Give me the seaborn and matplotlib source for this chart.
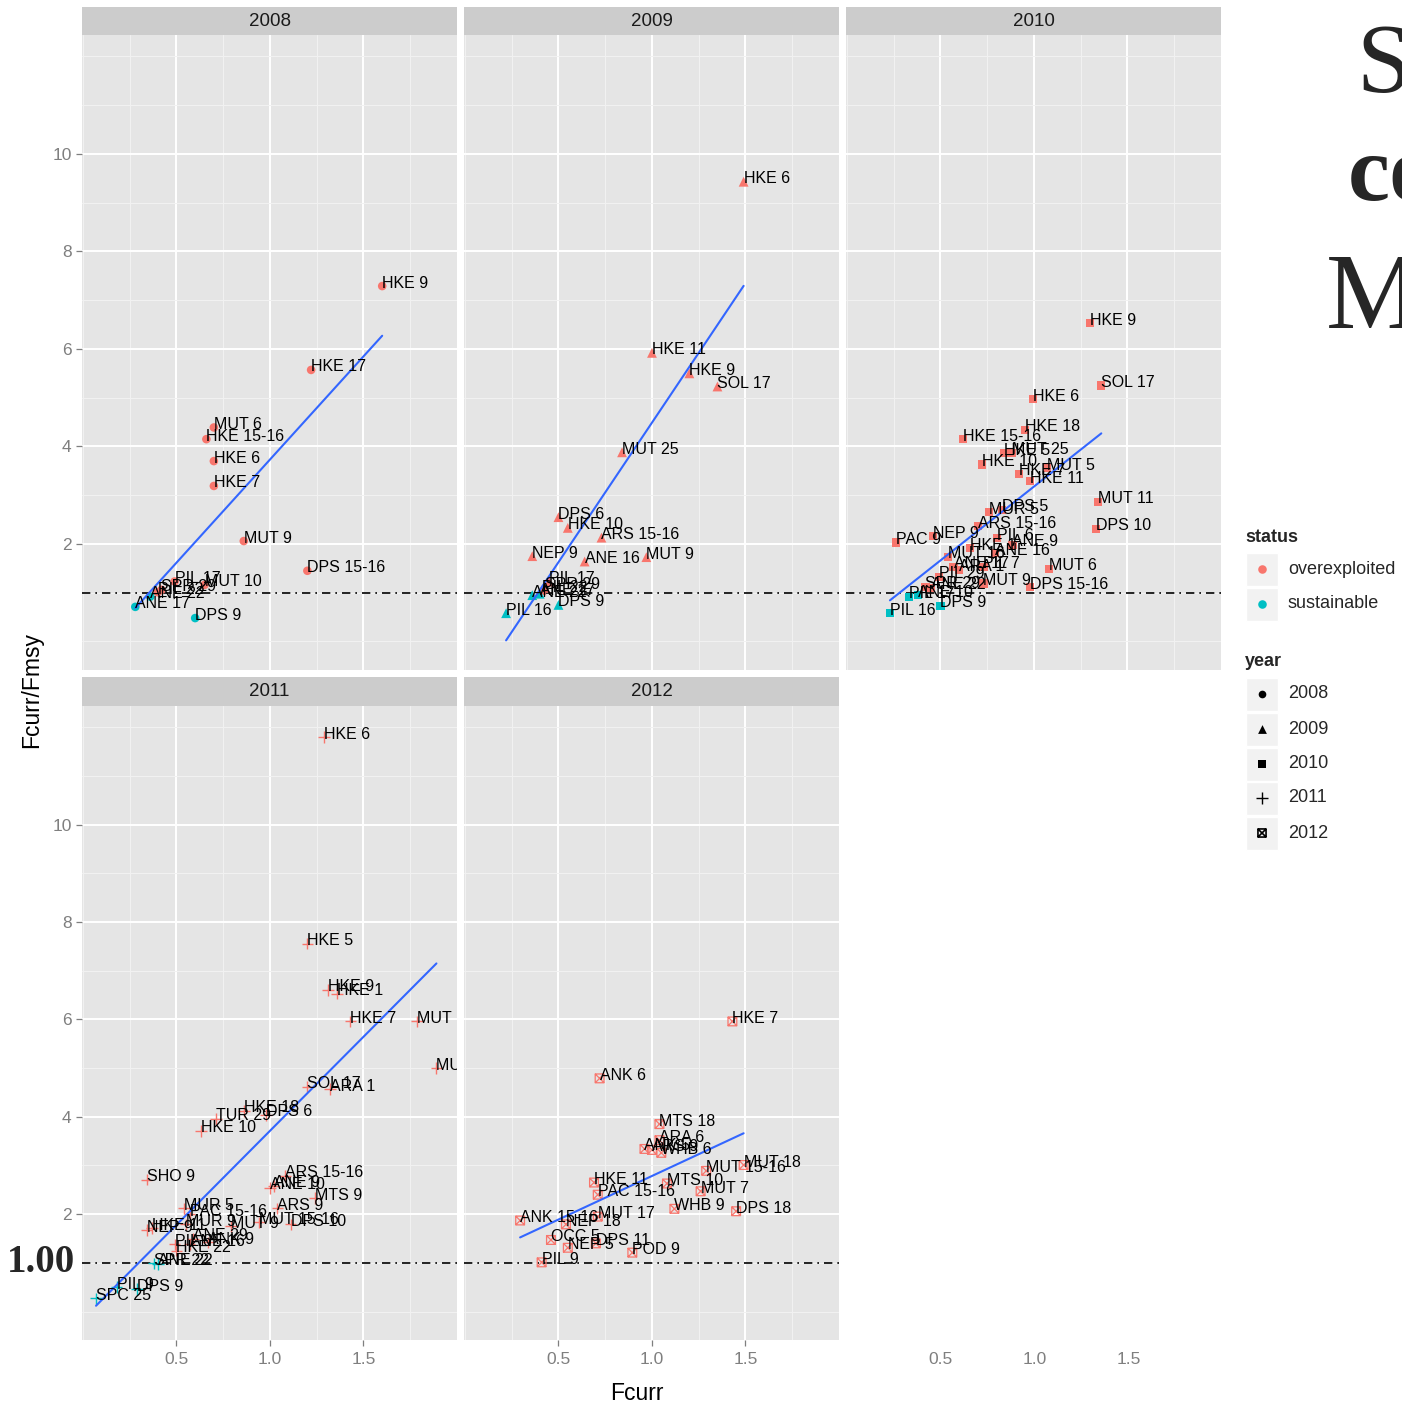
import numpy as np
import pandas as pd
import matplotlib
matplotlib.use("Agg")
import matplotlib.pyplot as plt
import seaborn as sns
from matplotlib.path import Path
from matplotlib.markers import MarkerStyle
from matplotlib.patches import Rectangle

# ---------------- data ----------------
years = [2008, 2009, 2010, 2011, 2012]

labels_2008 = ["HKE 9", "HKE 17", "MUT 6", "HKE 15-16", "HKE 6", "HKE 7", "MUT 9", "DPS 15-16",
               "PIL 17", "MUT 10", "SPR 29", "PIL 22", "ANE 22", "ANE 17", "DPS 9"]
fcurr_2008 = [1.60, 1.22, 0.70, 0.66, 0.70, 0.70, 0.86, 1.20, 0.49, 0.65, 0.42, 0.40, 0.36, 0.28, 0.60]
ratio_2008 = [7.29, 5.57, 4.39, 4.15, 3.70, 3.19, 2.06, 1.45, 1.23, 1.16, 1.06, 1.01, 0.92, 0.71, 0.48]
sustainable_2008 = ["ANE 22", "ANE 17", "DPS 9"]

labels_2009 = ["HKE 6", "HKE 11", "HKE 9", "SOL 17", "MUT 25", "DPS 6", "HKE 10", "ARS 15-16", "NEP 9",
               "ANE 16", "MUT 9", "PIL 17", "SPR 29", "PIL 22", "ANE 17", "ANE 22", "DPS 9", "PIL 16"]
fcurr_2009 = [1.49, 1.00, 1.20, 1.35, 0.84, 0.50, 0.55, 0.73, 0.36, 0.64, 0.97, 0.45, 0.43, 0.41, 0.40,
              0.36, 0.50, 0.22]
ratio_2009 = [9.43, 5.92, 5.50, 5.23, 3.88, 2.55, 2.33, 2.13, 1.75, 1.64, 1.73, 1.23, 1.10, 1.05, 0.98,
              0.95, 0.75, 0.58]
sustainable_2009 = ["ANE 17", "ANE 22", "DPS 9", "PIL 16"]

labels_2010 = ["HKE 9", "SOL 17", "HKE 6", "HKE 18", "HKE 15-16", "HKE 5", "MUT 25", "HKE 10", "HKE 7",
               "MUT 5", "HKE 11", "MUT 11", "DPS 10", "MUT 6", "DPS 15-16", "MUR 5", "DPS 5", "ARS 15-16",
               "NEP 9", "PAC 9", "PIL 6", "ANE 9", "HKE 1", "MUT 16", "ANE 16", "ANE 17", "ARA 1", "PIL 7",
               "MUT 9", "PIL 29", "SPR 29", "ANE 22", "PIL 17", "ANE 10", "DPS 9", "PIL 16"]
fcurr_2010 = [1.30, 1.36, 0.995, 0.95, 0.62, 0.84, 0.88, 0.72, 0.92, 1.07, 0.98, 1.34, 1.33, 1.08, 0.98,
              0.76, 0.83, 0.70, 0.46, 0.26, 0.80, 0.885, 0.66, 0.54, 0.79, 0.57, 0.60, 0.73, 0.73, 0.49,
              0.42, 0.45, 0.33, 0.38, 0.50, 0.23]
ratio_2010 = [6.53, 5.25, 4.97, 4.34, 4.15, 3.86, 3.87, 3.63, 3.44, 3.55, 3.29, 2.87, 2.31, 1.49, 1.11,
              2.65, 2.70, 2.36, 2.16, 2.03, 2.12, 1.98, 1.91, 1.74, 1.81, 1.53, 1.47, 1.53, 1.19, 1.33,
              1.12, 1.10, 0.92, 0.95, 0.73, 0.58]
sustainable_2010 = ["PIL 17", "ANE 10", "DPS 9", "PIL 16"]

labels_2011 = ["HKE 6", "HKE 5", "HKE 9", "HKE 1", "HKE 7", "MUT 10", "MUT 11", "SOL 17", "ARA 1",
               "HKE 18", "DPS 6", "TUR 29", "HKE 10", "SHO 9", "ARS 15-16", "ANE 10", "ANE 9", "MTS 9",
               "ARS 9", "MUR 5", "PAC 15-16", "DPS 10", "MUT 15-16", "MUT 9", "MUR 9", "NEP 9", "HKE 11",
               "ANE 29", "ANE 16", "PIL 6", "ANK 9", "HKE 22", "SPR 22", "ANE 22", "PIL 9", "DPS 9",
               "SPC 25"]
fcurr_2011 = [1.29, 1.20, 1.31, 1.36, 1.43, 1.785, 1.89, 1.20, 1.32, 0.86, 0.98, 0.71, 0.63, 0.34, 1.08,
              1.00, 1.02, 1.24, 1.04, 0.54, 0.57, 1.11, 0.94, 0.79, 0.55, 0.34, 0.37, 0.59, 0.57, 0.49,
              0.67, 0.50, 0.38, 0.40, 0.18, 0.29, 0.07]
ratio_2011 = [11.8, 7.56, 6.61, 6.53, 5.96, 5.96, 5.00, 4.62, 4.57, 4.12, 4.04, 3.96, 3.71, 2.71, 2.79,
              2.54, 2.58, 2.33, 2.12, 2.12, 2.00, 1.79, 1.83, 1.75, 1.79, 1.67, 1.71, 1.50, 1.38, 1.38,
              1.42, 1.25, 0.99, 0.98, 0.50, 0.46, 0.27]
sustainable_2011 = ["SPR 22", "ANE 22", "PIL 9", "DPS 9", "SPC 25"]

labels_2012 = ["HKE 7", "ANK 6", "MTS 18", "ARA 6", "ANK 5", "ARS 9", "WHB 6", "MUT 18", "MUT 15-16",
               "HKE 11", "MTS 10", "MUT 7", "PAC 15-16", "WHB 9", "DPS 18", "ANK 15-16", "MUT 17",
               "NEP 18", "OCC 5", "DPS 11", "NEP 5", "POD 9", "PIL 9"]
fcurr_2012 = [1.43, 0.72, 1.04, 1.04, 0.96, 1.00, 1.05, 1.49, 1.29, 0.69, 1.08, 1.26, 0.71, 1.12, 1.45,
              0.295, 0.71, 0.54, 0.46, 0.70, 0.55, 0.895, 0.41]
ratio_2012 = [5.96, 4.79, 3.85, 3.52, 3.34, 3.32, 3.26, 3.01, 2.89, 2.65, 2.63, 2.47, 2.40, 2.11, 2.06,
              1.87, 1.95, 1.79, 1.47, 1.40, 1.31, 1.21, 1.01]
sustainable_2012 = []

x_ticks = [0.5, 1.0, 1.5]
y_ticks = [2, 4, 6, 8, 10]
status_levels = ["overexploited", "sustainable"]
status_colors = {"overexploited": "#F8766D", "sustainable": "#00BFC4"}

raw = {
    2008: (labels_2008, fcurr_2008, ratio_2008, sustainable_2008),
    2009: (labels_2009, fcurr_2009, ratio_2009, sustainable_2009),
    2010: (labels_2010, fcurr_2010, ratio_2010, sustainable_2010),
    2011: (labels_2011, fcurr_2011, ratio_2011, sustainable_2011),
    2012: (labels_2012, fcurr_2012, ratio_2012, sustainable_2012),
}
frames = []
for yr, (lab, fx, ry, sus) in raw.items():
    frames.append(pd.DataFrame({
        "year": yr, "label": lab, "Fcurr": fx, "ratio": ry,
        "status": ["sustainable" if l in sus else "overexploited" for l in lab],
    }))
df = pd.concat(frames, ignore_index=True)

# ---------------- style ----------------
sns.set_theme(style="white")
plt.rcParams["font.family"] = ["Liberation Sans", "DejaVu Sans"]

W, H = 1402, 1404
fig = plt.figure(figsize=(W / 100, H / 100), dpi=100)


def px_axes(x0, y0, x1, y1):
    return fig.add_axes([x0 / W, 1 - y1 / H, (x1 - x0) / W, (y1 - y0) / H])


# square-with-cross marker (ggplot shape 7)
box_x = Path([(-1, -1), (1, -1), (1, 1), (-1, 1), (-1, -1), (-1, -1), (1, 1), (-1, 1), (1, -1)],
             [Path.MOVETO, Path.LINETO, Path.LINETO, Path.LINETO, Path.CLOSEPOLY,
              Path.MOVETO, Path.LINETO, Path.MOVETO, Path.LINETO])
boxx_marker = MarkerStyle(box_x, fillstyle="none")

year_style = {
    2008: dict(marker="o", s=38, linewidth=0),
    2009: dict(marker="^", s=50, linewidth=0),
    2010: dict(marker="s", s=34, linewidth=0),
    2011: dict(marker="+", s=70, linewidth=1.0),
    2012: dict(marker=boxx_marker, s=40, linewidth=0.9),
}

col_x = [82, 464, 846]
panel_w = 375
row_panel = [(35, 670), (706, 1340)]
row_strip = [(7, 35), (677, 706)]
XLIM = (-0.005, 1.99)
YLIM = (-0.585, 12.44)
GREY_TXT = "#7F7F7F"
TICK_FS = 12.5


def style_axes(ax, show_x, show_y):
    ax.set_facecolor("#E5E5E5")
    for sp in ax.spines.values():
        sp.set_visible(False)
    ax.set_xlim(*XLIM)
    ax.set_ylim(*YLIM)
    ax.set_xticks(x_ticks)
    ax.set_xticklabels([f"{v:.1f}" for v in x_ticks])
    ax.set_xticks([0, 0.25, 0.75, 1.25, 1.75, 2.0], minor=True)
    ax.set_yticks(y_ticks)
    ax.set_yticklabels([str(v) for v in y_ticks])
    ax.set_yticks([0, 1, 3, 5, 7, 9, 11, 12], minor=True)
    ax.grid(which="major", color="white", lw=1.4)
    ax.grid(which="minor", color="#F2F2F2", lw=0.7)
    ax.set_axisbelow(True)
    ax.tick_params(which="minor", length=0)
    ax.tick_params(axis="x", which="major", length=4.5, width=0.9, color=GREY_TXT,
                   labelcolor=GREY_TXT, labelsize=TICK_FS, pad=4,
                   bottom=show_x, labelbottom=show_x)
    ax.tick_params(axis="y", which="major", length=4.5, width=0.9, color=GREY_TXT,
                   labelcolor=GREY_TXT, labelsize=TICK_FS, pad=3,
                   left=show_y, labelleft=show_y)
    ax.set_xlabel("")
    ax.set_ylabel("")


for i, yr in enumerate(years):
    r, c = divmod(i, 3)
    x0 = col_x[c]
    py0, py1 = row_panel[r]
    sy0, sy1 = row_strip[r]
    ax = px_axes(x0, py0, x0 + panel_w, py1)
    d = df[df["year"] == yr]
    st = year_style[yr]

    if yr == 2012:
        sns.scatterplot(data=d, x="Fcurr", y="ratio", color=status_colors["overexploited"],
                        legend=False, ax=ax, zorder=3, **st)
    else:
        sns.scatterplot(data=d, x="Fcurr", y="ratio", hue="status", hue_order=status_levels,
                        palette=status_colors, legend=False, ax=ax, zorder=3, **st)

    sns.regplot(data=d, x="Fcurr", y="ratio", scatter=False, ci=None, truncate=True,
                color="#3366FF", line_kws={"lw": 1.5, "zorder": 4}, ax=ax)

    ax.axhline(1, color="black", lw=1.2, ls=(0, (5, 3, 1, 3)), zorder=2)

    for _, row in d.iterrows():
        ax.annotate(row["label"], (row["Fcurr"], row["ratio"]), xytext=(0, 3),
                    textcoords="offset pixels", ha="left", va="center", fontsize=11.5,
                    color="black", clip_on=True, zorder=5)

    style_axes(ax, show_x=(r == 1), show_y=(c == 0))

    # facet strip
    sax = px_axes(x0, sy0, x0 + panel_w, sy1)
    sax.set_facecolor("#CCCCCC")
    sax.set_xticks([])
    sax.set_yticks([])
    for sp in sax.spines.values():
        sp.set_visible(False)
    sax.text(0.5, 0.5, str(yr), ha="center", va="center", fontsize=13.5, color="#1A1A1A",
             transform=sax.transAxes)

# x axis for third column (drawn at bottom, ggplot facet_wrap style)
bx = px_axes(col_x[2], row_panel[1][0], col_x[2] + panel_w, row_panel[1][1])
bx.patch.set_visible(False)
for sp in bx.spines.values():
    sp.set_visible(False)
bx.set_xlim(*XLIM)
bx.set_ylim(*YLIM)
bx.set_xticks(x_ticks)
bx.set_xticklabels([f"{v:.1f}" for v in x_ticks])
bx.set_yticks([])
bx.tick_params(axis="x", length=4.5, width=0.9, color=GREY_TXT, labelcolor=GREY_TXT,
               labelsize=TICK_FS, pad=4)

# ---------------- overlay: titles, legend, slide text ----------------
ov = fig.add_axes([0, 0, 1, 1])
ov.set_xlim(0, W)
ov.set_ylim(H, 0)
ov.axis("off")

ov.text(637, 1393, "Fcurr", ha="center", va="center", fontsize=16.5, color="black")
ov.text(32, 690, "Fcurr/Fmsy", ha="center", va="center", rotation=90, fontsize=16.5, color="black")

# legend: status
ov.text(1245, 537, "status", ha="left", va="center", fontsize=13, fontweight="bold")
for lvl, cy in zip(status_levels, [569, 604]):
    ov.add_patch(Rectangle((1246, cy - 16.5), 32, 33, facecolor="#F2F2F2", edgecolor="white", lw=1))
    ov.scatter([1262], [cy], s=38, marker="o", color=status_colors[lvl], linewidth=0, zorder=3)
    ov.text(1288, cy, lvl, ha="left", va="center", fontsize=13)

# legend: year
ov.text(1245, 662, "year", ha="left", va="center", fontsize=13, fontweight="bold")
for yr, cy in zip(years, [694, 729, 764, 798, 833]):
    ov.add_patch(Rectangle((1246, cy - 16.5), 32, 33, facecolor="#F2F2F2", edgecolor="white", lw=1))
    st = year_style[yr]
    if yr == 2011:
        ov.scatter([1262], [cy], s=70, marker="+", color="black", linewidth=1.0, zorder=3)
    elif yr == 2012:
        ov.scatter([1262], [cy], s=34, marker=boxx_marker, color="black", linewidth=1.2, zorder=3)
    else:
        ov.scatter([1262], [cy], s=st["s"] * 0.8, marker=st["marker"], color="black", linewidth=0,
                   zorder=3)
    ov.text(1288, cy, str(yr), ha="left", va="center", fontsize=13)

# cut-off slide text on the right and the "1.00" annotation
ov.text(1356, 92, "S", ha="left", va="baseline", fontsize=71, family="Liberation Serif")
ov.text(1348, 200, "co", ha="left", va="baseline", fontsize=68, family="Liberation Serif",
        fontweight="bold")
ov.text(1326, 328, "M", ha="left", va="baseline", fontsize=77, family="Liberation Serif")
ov.text(7, 1262, "1.00", ha="left", va="center", fontsize=28, family="Liberation Serif",
        fontweight="bold")

fig.savefig("out.png", dpi=100)
